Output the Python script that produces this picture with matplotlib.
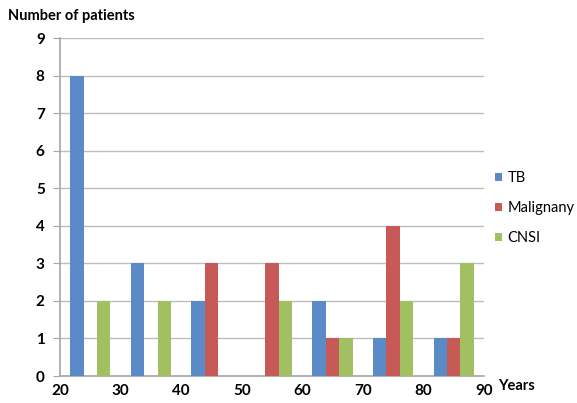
import matplotlib
matplotlib.use("Agg")
import matplotlib.pyplot as plt
import numpy as np

age_labels = ["20", "30", "40", "50", "60", "70", "80", "90"]
series_names = ["TB", "Malignany", "CNSI"]
tb = [8, 3, 2, 0, 2, 1, 1]
malignancy = [0, 0, 3, 3, 1, 4, 1]
cnsi = [2, 2, 0, 2, 1, 2, 3]
colors = ["#5B8BC6", "#C75A57", "#A2C062"]

plt.rcParams["font.family"] = ["Lato", "DejaVu Sans"]

fig = plt.figure(figsize=(5.77, 4.03), dpi=100)
ax = fig.add_axes([60 / 577, 27 / 403, 424 / 577, 338 / 403])

n_groups = len(tb)
x = np.arange(n_groups)
width = 1 / 4.5
for i, (vals, name, col) in enumerate(zip([tb, malignancy, cnsi], series_names, colors)):
    ax.bar(x + (i - 1) * width, vals, width, color=col, label=name, zorder=3)

ax.set_xlim(-0.5, n_groups - 0.5)
ax.set_ylim(0, 9)
ax.set_yticks(range(0, 10))
ax.tick_params(axis="y", length=5, color="#A6A6A6", labelsize=11, pad=6)
ax.set_xticks([])
ax.grid(axis="y", color="#BDBDBD", linewidth=1, zorder=0)
for side in ["top", "right"]:
    ax.spines[side].set_visible(False)
for side in ["left", "bottom"]:
    ax.spines[side].set_color("#A6A6A6")
    ax.spines[side].set_linewidth(1.2)

# Age labels sit on the group boundaries
for k, lab in enumerate(age_labels):
    ax.text(k - 0.5, -0.22, lab, ha="center", va="top", fontsize=11,
            fontweight="bold", transform=ax.transData, clip_on=False)
for lab in ax.get_yticklabels():
    lab.set_fontweight("bold")

fig.text(8 / 577, 1 - 16 / 403, "Number of patients", ha="left", va="center",
         fontsize=10.5, fontweight="bold")
fig.text(498 / 577, 1 - 386 / 403, "Years", ha="left", va="center",
         fontsize=10.5, fontweight="bold")

ax.legend(loc="center left", bbox_to_anchor=(495 / 577, 1 - 208 / 403),
          bbox_transform=fig.transFigure, frameon=False,
          borderpad=0, borderaxespad=0,
          handlelength=0.5, handleheight=0.5, handletextpad=0.35,
          labelspacing=1.1, fontsize=10.5)

fig.savefig("out.png", dpi=100)
